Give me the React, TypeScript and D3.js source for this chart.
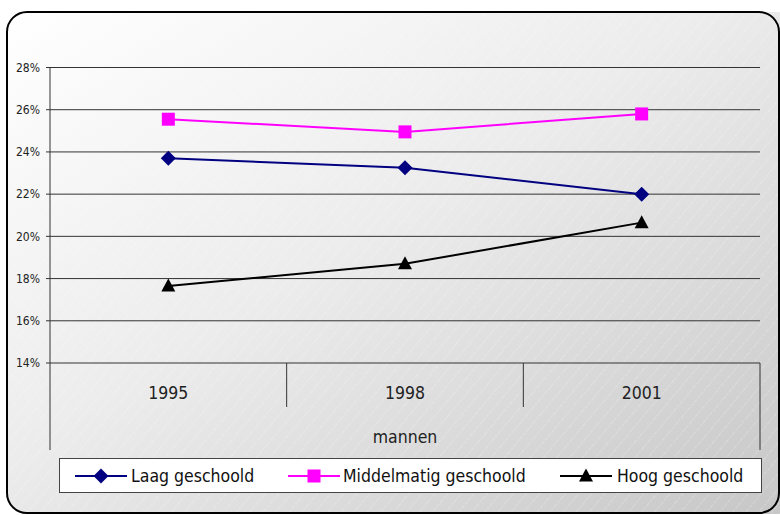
import React from "react";
import * as d3 from "d3";

const years = ["1995", "1998", "2001"];
const groupLabel = "mannen";
const laag = [23.7, 23.25, 22.0];
const middel = [25.55, 24.95, 25.8];
const hoog = [17.65, 18.7, 20.65];
const yTicks = [14, 16, 18, 20, 22, 24, 26, 28];

const seriesList = [
  { name: "Laag geschoold", values: laag, color: "#000080", marker: "diamond" },
  { name: "Middelmatig geschoold", values: middel, color: "#ff00ff", marker: "square" },
  { name: "Hoog geschoold", values: hoog, color: "#000000", marker: "triangle" },
];

const W = 780;
const H = 515;
const font = "DejaVu Sans Condensed, DejaVu Sans, sans-serif";

function Marker({ kind, x, y, color }: { kind: string; x: number; y: number; color: string }) {
  if (kind === "square") return <rect x={x - 6.5} y={y - 6.5} width={13} height={13} fill={color} />;
  if (kind === "diamond")
    return <path d={`M${x},${y - 7.5}L${x + 7.5},${y}L${x},${y + 7.5}L${x - 7.5},${y}Z`} fill={color} />;
  return <path d={`M${x},${y - 7.5}L${x + 7},${y + 5.5}L${x - 7},${y + 5.5}Z`} fill={color} />;
}

export default function App() {
  const left = 50;
  const right = 760;
  const x = d3.scaleBand().domain(years).range([left, right]);
  const y = d3.scaleLinear().domain([14, 28]).range([363, 67.5]);
  const axisY = y(14);
  const cx = (i: number) => x(years[i])! + x.bandwidth() / 2;
  const line = d3
    .line<number>()
    .x((_, i) => cx(i))
    .y((d) => y(d));

  // legend swatch start / text start
  const legendItems = [
    { lx: 75, tx: 131 },
    { lx: 288, tx: 343 },
    { lx: 560, tx: 617 },
  ];

  return (
    <div style={{ position: "absolute", left: 0, top: 0 }}>
      <svg width={W} height={H} style={{ display: "block" }}>
        <defs>
          <linearGradient id="bg" x1="0" y1="0" x2="1" y2="1">
            <stop offset="0" stopColor="#ffffff" />
            <stop offset="0.45" stopColor="#ececec" />
            <stop offset="1" stopColor="#c6c6c6" />
          </linearGradient>
          <pattern id="hatch" width="10" height="10" patternUnits="userSpaceOnUse" patternTransform="rotate(40)">
            <line x1="0" y1="0" x2="0" y2="10" stroke="#ffffff" strokeWidth="0.8" strokeDasharray="2.5 1.5" opacity="0.6" />
          </pattern>
          <clipPath id="frame">
            <rect x={7} y={12} width={790} height={502} rx={20} />
          </clipPath>
        </defs>
        <rect width={W} height={H} fill="#ffffff" />
        <g clipPath="url(#frame)">
          <rect x={7} y={12} width={790} height={502} fill="url(#bg)" />
          <rect x={7} y={12} width={790} height={502} fill="url(#hatch)" />
        </g>
        <rect x={7} y={12} width={772} height={501} rx={20} fill="none" stroke="#000" strokeWidth={2} />

        {/* grid and y labels */}
        {yTicks.map((t) => (
          <g key={t}>
            <line x1={left - 4} x2={right} y1={y(t)} y2={y(t)} stroke="#333" strokeWidth={1} />
            <text x={40} y={y(t)} dy="0.35em" textAnchor="end" fontSize={12} fontFamily={font} fill="#222">
              {t}%
            </text>
          </g>
        ))}
        <line x1={left} x2={left} y1={y(28)} y2={450} stroke="#333" />
        <line x1={right} x2={right} y1={axisY} y2={450} stroke="#333" />
        {years.slice(1).map((yr) => (
          <line key={yr} x1={x(yr)} x2={x(yr)} y1={axisY} y2={407} stroke="#333" />
        ))}
        {years.map((yr, i) => (
          <text key={yr} x={cx(i)} y={393} dy="0.35em" textAnchor="middle" fontSize={17.5} fontFamily={font} fill="#222">
            {yr}
          </text>
        ))}
        <text x={(left + right) / 2} y={437} dy="0.35em" textAnchor="middle" fontSize={17.5} fontFamily={font} fill="#222">
          {groupLabel}
        </text>

        {/* series */}
        {seriesList.map((s) => (
          <g key={s.name}>
            <path d={line(s.values)!} fill="none" stroke={s.color} strokeWidth={2} />
            {s.values.map((v, i) => (
              <Marker key={i} kind={s.marker} x={cx(i)} y={y(v)} color={s.color} />
            ))}
          </g>
        ))}

        {/* legend */}
        <rect x={59.5} y={458.5} width={702} height={34} fill="#fff" stroke="#444" />
        {seriesList.map((s, i) => {
          const it = legendItems[i];
          const ly = 476;
          return (
            <g key={s.name}>
              <line x1={it.lx} x2={it.lx + 52} y1={ly} y2={ly} stroke={s.color} strokeWidth={2} />
              <Marker kind={s.marker} x={it.lx + 26} y={ly} color={s.color} />
              <text x={it.tx} y={ly} dy="0.35em" fontSize={17.5} fontFamily={font} fill="#111">
                {s.name}
              </text>
            </g>
          );
        })}
      </svg>
    </div>
  );
}
